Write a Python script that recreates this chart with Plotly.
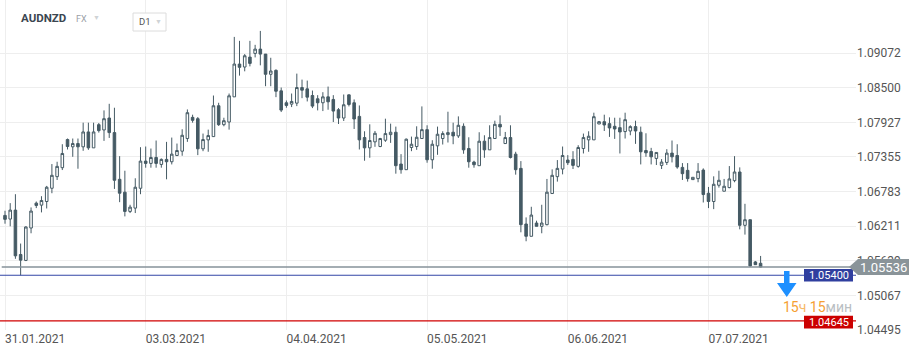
import plotly.graph_objects as go

# ---------------- data ----------------
open_ = [1.06389,1.06329,1.06477,1.05743,1.05645,1.06181,1.06592,1.06559,1.06619,1.06838,
         1.07030,1.07178,1.07643,1.07523,1.07577,1.07523,1.07769,1.07506,1.07889,1.07802,
         1.07999,1.07758,1.06986,1.06773,1.06455,1.06510,1.06838,1.07287,1.07249,1.07347,
         1.07232,1.07315,1.07276,1.07380,1.07451,1.07660,1.08010,1.07988,1.07490,1.07638,
         1.07692,1.08202,1.07889,1.07933,1.08349,1.08891,1.08842,1.09006,1.09067,1.09138,
         1.09056,1.08722,1.08787,1.08448,1.08251,1.08229,1.08245,1.08503,1.08481,1.08371,
         1.08317,1.08251,1.08349,1.08306,1.08136,1.07999,1.08382,1.08251,1.08026,1.07676,
         1.07506,1.07605,1.07528,1.07632,1.07725,1.07764,1.07238,1.07145,1.07512,1.07528,
         1.07660,1.07807,1.07309,1.07539,1.07660,1.07725,1.07764,1.07703,1.07862,1.07495,
         1.07271,1.07211,1.07616,1.07473,1.07660,1.07895,1.07577,1.07676,1.07402,1.07167,
         1.06247,1.06044,1.06263,1.06209,1.06236,1.06751,1.07030,1.07156,1.07304,1.07315,
         1.07200,1.07495,1.07638,1.07638,1.07900,1.07939,1.07906,1.07862,1.07840,1.07775,
         1.07785,1.07857,1.07764,1.07462,1.07446,1.07331,1.07216,1.07265,1.07419,1.07380,
         1.07183,1.07134,1.06981,1.06997,1.07139,1.06756,1.06619,1.06888,1.06789,1.06849,
         1.06964,1.07107,1.06225,1.06318,1.05620,1.05598]
high = [1.06466,1.06592,1.06740,1.05924,1.06209,1.06521,1.06619,1.06707,1.06877,1.07238,
        1.07276,1.07566,1.07660,1.07660,1.07660,1.07922,1.07922,1.07922,1.07917,1.08125,
        1.08234,1.08169,1.07369,1.07128,1.06565,1.07003,1.07517,1.07528,1.07495,1.07627,
        1.07331,1.07605,1.07676,1.07577,1.07813,1.08141,1.08054,1.08015,1.07742,1.07807,
        1.08371,1.08251,1.08004,1.08404,1.09340,1.09275,1.09056,1.09275,1.09209,1.09439,
        1.09056,1.08995,1.08804,1.08503,1.08289,1.08404,1.08733,1.08634,1.08618,1.08453,
        1.08377,1.08426,1.08519,1.08377,1.08163,1.08388,1.08388,1.08306,1.08207,1.07780,
        1.07895,1.07785,1.07671,1.07988,1.07906,1.07857,1.07402,1.07660,1.07692,1.07862,
        1.08191,1.07879,1.07632,1.07857,1.07780,1.08103,1.07922,1.08026,1.07911,1.07681,
        1.07293,1.07764,1.07714,1.07879,1.07955,1.08043,1.07769,1.07879,1.07441,1.07287,
        1.06356,1.06532,1.06302,1.06565,1.06992,1.07150,1.07304,1.07528,1.07386,1.07451,
        1.07550,1.07742,1.07780,1.08087,1.07950,1.08054,1.08010,1.08004,1.08004,1.08087,
        1.07879,1.07955,1.07857,1.07747,1.07506,1.07430,1.07320,1.07484,1.07627,1.07566,
        1.07254,1.07254,1.07019,1.07254,1.07167,1.06860,1.07035,1.07128,1.06992,1.07205,
        1.07369,1.07183,1.06581,1.06318,1.05636,1.05719]
low = [1.06252,1.06209,1.05672,1.05400,1.05634,1.06094,1.06510,1.06439,1.06504,1.06756,
       1.06975,1.07139,1.07479,1.07358,1.07161,1.07457,1.07473,1.07506,1.07758,1.07621,
       1.07670,1.06827,1.06608,1.06373,1.06428,1.06428,1.06740,1.07178,1.07178,1.07178,
       1.07178,1.06986,1.07232,1.07369,1.07375,1.07605,1.07922,1.07386,1.07451,1.07441,
       1.07692,1.07868,1.07862,1.07807,1.08349,1.08700,1.08771,1.08853,1.09001,1.08870,
       1.08525,1.08525,1.08344,1.08098,1.08169,1.08180,1.08196,1.08327,1.08273,1.08163,
       1.08125,1.08114,1.08136,1.07933,1.07900,1.07950,1.08191,1.07818,1.07479,1.07293,
       1.07342,1.07523,1.07517,1.07605,1.07588,1.07079,1.07079,1.07145,1.07451,1.07473,
       1.07660,1.07260,1.07161,1.07391,1.07561,1.07594,1.07566,1.07670,1.07408,1.07178,
       1.07178,1.07211,1.07342,1.07473,1.07660,1.07703,1.07577,1.07331,1.07063,1.06110,
       1.05962,1.06044,1.06209,1.06094,1.06225,1.06751,1.06948,1.07068,1.07222,1.07156,
       1.07178,1.07413,1.07441,1.07638,1.07900,1.07785,1.07687,1.07654,1.07413,1.07660,
       1.07714,1.07572,1.07232,1.07358,1.07232,1.07222,1.07156,1.07222,1.07265,1.07161,
       1.06975,1.06948,1.06981,1.06937,1.06603,1.06510,1.06493,1.06849,1.06789,1.06838,
       1.06937,1.06159,1.06072,1.05540,1.05570,1.05530]
close = [1.06324,1.06477,1.05721,1.05650,1.06198,1.06461,1.06554,1.06636,1.06855,1.07052,
         1.07200,1.07413,1.07528,1.07577,1.07523,1.07769,1.07506,1.07769,1.07791,1.07988,
         1.07758,1.06970,1.06756,1.06455,1.06526,1.06855,1.07287,1.07249,1.07347,1.07249,
         1.07315,1.07276,1.07402,1.07462,1.07714,1.08087,1.07961,1.07490,1.07643,1.07709,
         1.08202,1.07889,1.07955,1.08366,1.08891,1.08837,1.09028,1.08902,1.09138,1.09056,
         1.08722,1.08776,1.08442,1.08130,1.08207,1.08273,1.08503,1.08459,1.08344,1.08196,
         1.08251,1.08349,1.08267,1.08114,1.07999,1.08218,1.08223,1.07983,1.07638,1.07506,
         1.07627,1.07747,1.07660,1.07742,1.07764,1.07211,1.07145,1.07649,1.07566,1.07681,
         1.07807,1.07309,1.07566,1.07731,1.07742,1.07758,1.07703,1.07879,1.07473,1.07276,
         1.07227,1.07616,1.07473,1.07676,1.07895,1.07851,1.07676,1.07347,1.07145,1.06236,
         1.06044,1.06395,1.06209,1.06263,1.06773,1.07052,1.07167,1.07380,1.07260,1.07216,
         1.07512,1.07676,1.07698,1.08021,1.07939,1.07884,1.07835,1.07818,1.07769,1.07972,
         1.07857,1.07785,1.07441,1.07424,1.07358,1.07430,1.07271,1.07419,1.07358,1.07189,
         1.07079,1.06997,1.07019,1.07118,1.06734,1.06619,1.06904,1.06970,1.06871,1.06992,
         1.07107,1.06225,1.06318,1.05555,1.05575,1.05536]

date_tick_index = [0, 27, 54, 81, 108, 135]
date_tick_text = ["31.01.2021", "03.03.2021", "04.04.2021", "05.05.2021", "06.06.2021", "07.07.2021"]
price_ticks = [1.04495, 1.05067, 1.05639, 1.06211, 1.06783, 1.07355, 1.07927, 1.08500, 1.09072]

current_price = 1.05536
level_blue = 1.05400
level_red = 1.04645
symbol = "AUDNZD"
market = "FX"
timeframe = "D1"

# ---------------- styling ----------------
W, H = 920, 356
ML, MR, MT, MB = 0, 64, 0, 26
PW, PH = W - ML - MR, H - MT - MB
CANDLE = "#455a64"
FONT = "Roboto"

def px(x):  # pixel -> paper x
    return (x - ML) / PW

def py(y):  # pixel -> paper y
    return 1 - (y - MT) / PH

x_idx = list(range(len(open_)))

fig = go.Figure()
fig.add_trace(go.Candlestick(
    x=x_idx, open=open_, high=high, low=low, close=close,
    increasing=dict(line=dict(color=CANDLE, width=1), fillcolor="#ffffff"),
    decreasing=dict(line=dict(color=CANDLE, width=1), fillcolor=CANDLE),
    whiskerwidth=0, hoverinfo="skip", showlegend=False,
))

x0 = -0.96
x1 = x0 + PW / 5.211

shapes = []
# horizontal level lines
shapes.append(dict(type="line", xref="paper", yref="y", x0=0.002, x1=1, y0=current_price, y1=current_price,
                   line=dict(color="#86929a", width=1.5), layer="above"))
shapes.append(dict(type="line", xref="paper", yref="y", x0=0, x1=1, y0=level_blue, y1=level_blue,
                   line=dict(color="#3346a6", width=1.2), layer="above"))
shapes.append(dict(type="line", xref="paper", yref="y", x0=0, x1=1, y0=level_red, y1=level_red,
                   line=dict(color="#d00000", width=1.2), layer="above"))
# level boxes
hb = 0.00105
shapes.append(dict(type="rect", xref="paper", yref="y", x0=px(804), x1=px(853),
                   y0=level_blue - hb, y1=level_blue + hb, fillcolor="#303f9f", line=dict(width=0), layer="above"))
shapes.append(dict(type="rect", xref="paper", yref="y", x0=px(804), x1=px(853),
                   y0=level_red - hb - 0.0002, y1=level_red + hb - 0.0002, fillcolor="#cc0000",
                   line=dict(width=0), layer="above"))
# current price tag (with left pointer)
th = 0.00132
tag_path = "M {a},{c} L {b},{t} L {r},{t} L {r},{bt} L {b},{bt} Z".format(
    a=px(849), b=px(858), r=px(909), c=current_price, t=current_price + th, bt=current_price - th)
shapes.append(dict(type="path", xref="paper", yref="y", path=tag_path, fillcolor="#8a9499",
                   line=dict(width=0), layer="above"))
# down arrow
arrow = [(784, 271), (789.5, 271), (789.5, 283), (796.5, 283), (786.75, 297), (777, 283), (784, 283)]
apath = "M " + " L ".join(f"{px(a)},{py(b)}" for a, b in arrow) + " Z"
shapes.append(dict(type="path", xref="paper", yref="paper", path=apath, fillcolor="#1e90ff",
                   line=dict(width=0), layer="above"))
# D1 box
shapes.append(dict(type="rect", xref="paper", yref="paper", x0=px(133), x1=px(166), y0=py(31), y1=py(13),
                   fillcolor="#ffffff", line=dict(color="#dcdcdc", width=1), layer="above"))

annotations = [
    dict(text="<b>" + symbol + "</b>", x=px(19), y=py(18.5), xref="paper", yref="paper", xanchor="left",
         yanchor="middle", showarrow=False, font=dict(family=FONT, size=11.5, color="#3b4650")),
    dict(text=market, x=px(74), y=py(19), xref="paper", yref="paper", xanchor="left",
         yanchor="middle", showarrow=False, font=dict(family=FONT, size=9, color="#9aa0a6")),
    dict(text="▼", x=px(91), y=py(18), xref="paper", yref="paper", xanchor="left",
         yanchor="middle", showarrow=False, font=dict(family=FONT, size=7, color="#cfd3d6")),
    dict(text=timeframe, x=px(137), y=py(22), xref="paper", yref="paper", xanchor="left",
         yanchor="middle", showarrow=False, font=dict(family=FONT, size=9.5, color="#555")),
    dict(text="▼", x=px(153), y=py(22), xref="paper", yref="paper", xanchor="left",
         yanchor="middle", showarrow=False, font=dict(family=FONT, size=7, color="#cfd3d6")),
    dict(text=f"{level_blue:.5f}", x=px(828.5), y=level_blue, xref="paper", yref="y", xanchor="center",
         yanchor="middle", showarrow=False, font=dict(family=FONT, size=11, color="#ffffff")),
    dict(text=f"{level_red:.5f}", x=px(828.5), y=level_red - 0.0002, xref="paper", yref="y", xanchor="center",
         yanchor="middle", showarrow=False, font=dict(family=FONT, size=11, color="#ffffff")),
    dict(text=f"{current_price:.5f}", x=px(883), y=current_price, xref="paper", yref="y", xanchor="center",
         yanchor="middle", showarrow=False, font=dict(family=FONT, size=13, color="#ffffff")),
    dict(text="<span style='color:#f5a033'>15</span><span style='color:#f7b968'>ч</span> "
              "<span style='color:#f5a033'>15</span><span style='color:#b9bec2'>мин</span>",
         x=px(853), y=py(316), xref="paper", yref="paper", xanchor="right", yanchor="bottom",
         showarrow=False, borderpad=0, font=dict(family=FONT, size=14)),
]

fig.update_layout(
    width=W, height=H,
    margin=dict(l=ML, r=MR, t=MT, b=MB),
    paper_bgcolor="#ffffff", plot_bgcolor="#ffffff",
    shapes=shapes, annotations=annotations,
    showlegend=False,
    xaxis=dict(range=[x0, x1], rangeslider=dict(visible=False), tickmode="array",
               tickvals=date_tick_index, ticktext=date_tick_text, ticklabelposition="outside right",
               showgrid=True, gridcolor="#eeeeee", gridwidth=1, zeroline=False, showline=False,
               ticks="", tickfont=dict(family=FONT, size=12, color="#555555"), fixedrange=True),
    yaxis=dict(range=[1.04495, 1.0995], side="right", tickmode="array", tickvals=price_ticks,
               ticktext=[f"{v:.5f}" for v in price_ticks], showgrid=True, gridcolor="#eeeeee",
               gridwidth=1, zeroline=False, showline=False, ticks="",
               tickfont=dict(family=FONT, size=12, color="#555555"), fixedrange=True),
)

fig.write_html("out.html")
